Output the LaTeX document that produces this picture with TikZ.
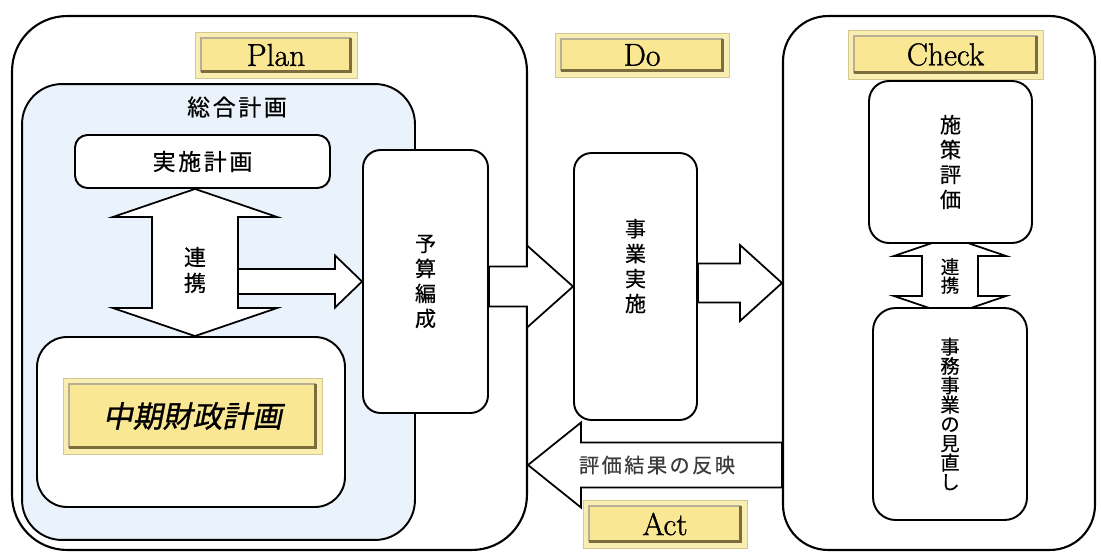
\documentclass[tikz,border=0pt]{standalone}
\usepackage{fontspec}
\usepackage{xcolor}
\usetikzlibrary{positioning,calc,backgrounds}
\newfontfamily\jp[FakeBold=0.5]{Noto Sans CJK JP}
\newfontfamily\jpwide[LetterSpace=12,FakeBold=0.5]{Noto Sans CJK JP}
\newfontfamily\jpslant[FakeSlant=0.2,FakeBold=1]{Noto Sans CJK JP}
\newfontfamily\platefont[FakeBold=1.2]{Latin Modern Roman}
\definecolor{platefill}{RGB}{250,231,148}
\definecolor{platerim}{RGB}{249,238,178}
\definecolor{plateshade}{RGB}{125,108,62}
\definecolor{sogoblue}{RGB}{234,242,251}
\definecolor{notegray}{RGB}{60,60,60}

% horizontal block arrow: start, tip, shaft half, head half, head length
\newcommand\hblock[5]{\draw[blockline] ($(#1)+(0,-#3)$) -- ($(#2)+({-(#5)},-#3)$) -- ($(#2)+({-(#5)},-#4)$) -- (#2) -- ($(#2)+({-(#5)},#4)$) -- ($(#2)+({-(#5)},#3)$) -- ($(#1)+(0,#3)$) -- cycle;}
% vertical double block arrow: top tip, bottom tip, shaft half, head half, head length
\newcommand\vblock[5]{\draw[blockline] (#1) -- ($(#1)+(#4,#5)$) -- ($(#1)+(#3,#5)$) -- ($(#2)+(#3,-#5)$) -- ($(#2)+(#4,-#5)$) -- (#2) -- ($(#2)+(-#4,-#5)$) -- ($(#2)+(-#3,-#5)$) -- ($(#1)+(-#3,#5)$) -- ($(#1)+(-#4,#5)$) -- cycle;}

\begin{document}
\begin{tikzpicture}[x=0.02cm, y=-0.02cm,
    every node/.style={font=\jp},
    outerbox/.style={draw, line width=1.2pt, minimum height=10.68cm},
    box/.style={draw, fill=white, line width=1.1pt, inner sep=0pt},
    vtext/.style={align=center, font=\jp\fontsize{12}{14.2}\selectfont},
    plate/.style={fill=platerim, draw=platerim!70!plateshade, line width=0.4pt, inner sep=0pt,
        font=\platefont\fontsize{18}{21}\selectfont,
        path picture={
            \fill[platefill] ([shift={(3.5pt,-3.5pt)}]path picture bounding box.north west) rectangle ([shift={(-3.5pt,3.5pt)}]path picture bounding box.south east);
            \draw[plateshade!55, line width=0.8pt] ([shift={(3.5pt,3.5pt)}]path picture bounding box.south west) -- ([shift={(3.5pt,-3.5pt)}]path picture bounding box.north west) -- ([shift={(-3.5pt,-3.5pt)}]path picture bounding box.north east);
            \draw[plateshade, line width=1.6pt] ([shift={(-3.5pt,-3.5pt)}]path picture bounding box.north east) -- ([shift={(-3.5pt,3.5pt)}]path picture bounding box.south east) -- ([shift={(3.5pt,3.5pt)}]path picture bounding box.south west);
        }},
    blockline/.style={draw, fill=white, line width=1pt, line join=miter}]

    \useasboundingbox (0,0) rectangle (1101,554);

    % Plan / Check frames
    \node[outerbox, minimum width=10.3cm, rounded corners=1.1cm] (planbox) at (269.5,283) {};
    \node[outerbox, minimum width=6.24cm, rounded corners=0.9cm] (checkbox) at (939,283) {};

    % Plan
    \node[box, fill=sogoblue, minimum width=7.86cm, minimum height=9.12cm, rounded corners=0.8cm] (sogo) at (218.5,312) {};
    \node[font=\jpwide\fontsize{13}{15}\selectfont] (sogotitle) at (237,107) {総合計画};
    \node[box, minimum width=5.1cm, minimum height=1.06cm, rounded corners=0.25cm, font=\jpwide\fontsize{13}{15}\selectfont] (jisshi) at (202.5,161.5) {実施計画};
    \node[box, minimum width=6.16cm, minimum height=3.4cm, rounded corners=0.6cm] (chuki) at (191,422) {};
    \node[plate, minimum width=5.18cm, minimum height=1.52cm, font=\jpslant\fontsize{17}{20}\selectfont] (chukiplate) at (192.5,416) {中期財政計画};
    \node[box, vtext, minimum width=2.5cm, minimum height=5.26cm, rounded corners=0.35cm] (yosan) at (425.5,281.5) {予\\算\\編\\成};

    % Do
    \node[box, vtext, minimum width=2.46cm, minimum height=5.34cm, rounded corners=0.35cm] (jigyo) at (635.5,286.5) {事\\業\\実\\施\\[10pt]};

    % Check
    \node[box, vtext, minimum width=3.26cm, minimum height=3.24cm, rounded corners=0.4cm] (shisaku) at (950.5,162) {施\\策\\評\\価};
    \node[box, vtext, font=\jp\fontsize{11}{11}\selectfont, minimum width=3.08cm, minimum height=4.24cm, rounded corners=0.45cm] (minaoshi) at (950,414) {事\\務\\事\\業\\の\\見\\直\\し};
    \node[vtext, font=\jp\fontsize{10.5}{10.5}\selectfont] (renkei2) at (950,276) {連\\携};
    \coordinate (ctop) at ($(shisaku.south -| renkei2)+(0,-7)$);
    \coordinate (cbot) at ($(minaoshi.north -| renkei2)+(0,8)$);
    \begin{scope}[on background layer]
        \vblock{ctop}{cbot}{28}{56}{19}
    \end{scope}

    % phase plates
    \node[plate, minimum width=3.24cm, minimum height=0.92cm] (plan) at (276,55) {Plan};
    \node[plate, minimum width=3.48cm, minimum height=0.88cm] (do) at (642,55) {Do};
    \node[plate, minimum width=3.9cm, minimum height=0.98cm] (check) at (945.5,54.5) {Check};
    \node[plate, minimum width=3.28cm, minimum height=0.96cm] (act) at (665,524) {Act};

    % block arrows
    \node[vtext, font=\jp\fontsize{12.5}{14.7}\selectfont] (renkei) at (195,270) {};
    \vblock{jisshi.south -| renkei}{chuki.north -| renkei}{43}{82}{28}
    \node[vtext, font=\jp\fontsize{12.5}{14.7}\selectfont] at (renkei) {連\\携};
    \coordinate (renkeiR) at ($(renkei)+(43,0)$);
    \hblock{renkeiR |- yosan.west}{yosan.west}{12.5}{26}{27}
    \hblock{yosan.east |- jigyo.west}{jigyo.west}{20}{41}{46}
    \hblock{jigyo.east |- checkbox.west}{checkbox.west}{19.5}{38}{42}
    \coordinate (hanei) at (657,465);
    \hblock{checkbox.west |- hanei}{planbox.east |- hanei}{22.5}{42.5}{-53}
    \node[font=\jpwide\fontsize{11.5}{14}\selectfont, text=notegray] (haneitext) at (hanei) {評価結果の反映};
\end{tikzpicture}
\end{document}
